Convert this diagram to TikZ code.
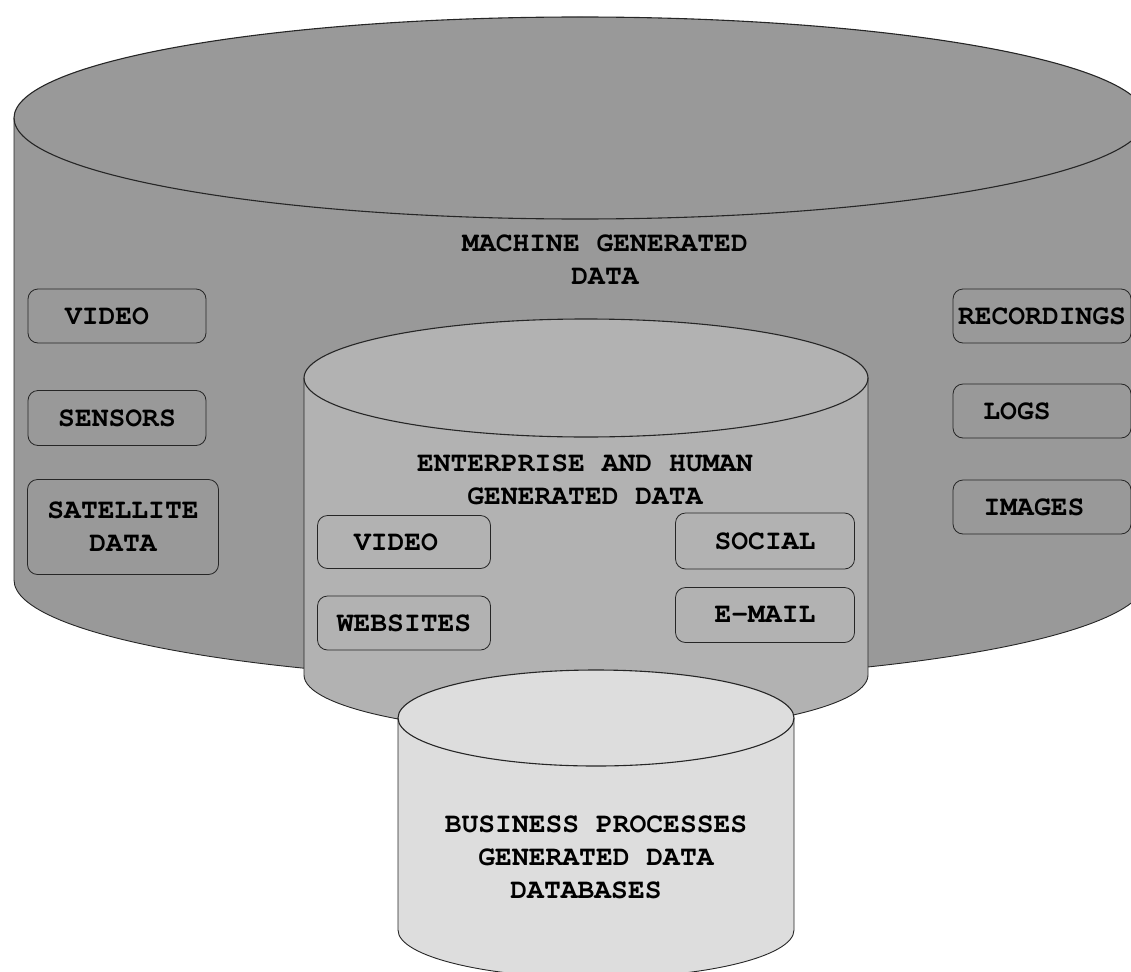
\documentclass[tikz,border=0pt]{standalone}
\usepackage[T1]{fontenc}
\usepackage{xcolor}
\usetikzlibrary{positioning}
\newcommand{\courfont}{\fontfamily{pcr}\selectfont}
\definecolor{machine}{HTML}{999999}
\definecolor{enterprise}{HTML}{B2B2B2}
\definecolor{business}{HTML}{DDDDDD}
\definecolor{rim}{HTML}{262626}

% drum: centre x, top y, bottom y, x radius, y radius, fill
\newcommand{\datadrum}[6]{%
  \fill[#6] (#1-#4,#2) -- (#1-#4,#3)
    arc[start angle=180,end angle=360,x radius=#4pt,y radius=#5pt]
    -- (#1+#4,#2)
    arc[start angle=0,end angle=180,x radius=#4pt,y radius=#5pt] -- cycle;
  \draw[rim,line width=0.9pt] (#1-#4,#2) -- (#1-#4,#3)
    arc[start angle=180,end angle=360,x radius=#4pt,y radius=#5pt]
    -- (#1+#4,#2);
  \draw[rim,line width=1.1pt] (#1,#2) ellipse[x radius=#4pt,y radius=#5pt];
}

\begin{document}
\begin{tikzpicture}[x=1pt,y=1pt,
    txt/.style={font=\courfont\bfseries\fontsize{28}{33}\selectfont,align=center},
    item/.style={txt,draw=rim,line width=0.8pt,rounded corners=10pt,
      minimum width=178pt,minimum height=54pt,inner sep=2pt}]
  \useasboundingbox (0,0) rectangle (1131,-971);

  % Machine generated data
  \datadrum{580}{-118}{-580}{566}{101}{machine}
  \node[txt] (machine) at (605,-260) {MACHINE GENERATED\\DATA};
  \node[item] (video) at (117,-316) {VIDEO\hspace*{20pt}};
  \node[item,minimum height=55pt] (sensors) at (117,-418) {SENSORS};
  \node[item,minimum width=191pt,minimum height=95pt] (satellite) at (123,-527) {SATELLITE\\DATA};
  \node[item] (recordings) at (1042,-316) {RECORDINGS};
  \node[item] (logs) at (1042,-411) {LOGS\hspace*{50pt}};
  \node[item] (images) at (1042,-507) {IMAGES\hspace*{16pt}};

  % Enterprise and human generated data
  \datadrum{586}{-378}{-675}{282}{59}{enterprise}
  \node[txt] (enterprise) at (585,-480) {ENTERPRISE AND HUMAN\\GENERATED DATA};
  \node[item,minimum width=173pt,minimum height=53pt] (webvideo) at (404,-542) {VIDEO\hspace*{16pt}};
  \node[item,minimum width=173pt] (websites) at (404,-623) {WEBSITES};
  \node[item,minimum width=179pt,minimum height=56pt] (social) at (765,-541) {SOCIAL};
  \node[item,minimum width=179pt,minimum height=55pt] (email) at (765,-615) {E-MAIL};

  % Business processes
  \datadrum{596}{-718}{-930}{198}{48}{business}
  \node[txt] (business) at (596,-857) {BUSINESS PROCESSES\\GENERATED DATA\\DATABASES\hspace*{20pt}};
\end{tikzpicture}
\end{document}
